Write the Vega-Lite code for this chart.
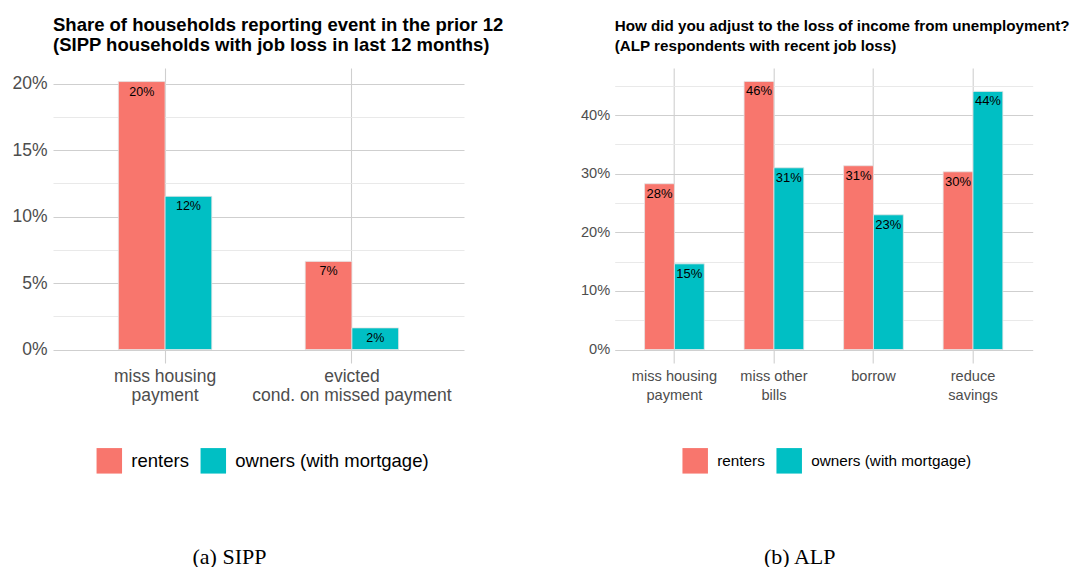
{
  "$schema": "https://vega.github.io/schema/vega-lite/v6.json",
  "padding": {"left": 11, "top": 15, "right": 5, "bottom": 0},
  "bounds": "flush",
  "spacing": 150.7,
  "background": "white",
  "config": {
    "view": {"stroke": null},
    "axis": {"domain": false, "ticks": false, "gridColor": "#cfcfcf", "gridWidth": 1.1, "labelColor": "#4d4d4d", "labelFont": "Liberation Sans", "labelFontSize": 17.5, "labelLimit": 300},
    "legend": {"orient": "none", "direction": "horizontal", "symbolType": "square", "symbolSize": 650, "symbolStrokeWidth": 0, "symbolOpacity": 1, "labelFontSize": 18.5, "labelColor": "#000", "labelOffset": 9, "columnPadding": 11, "padding": 0, "labelLimit": 400}
  },
  "resolve": {"scale": {"color": "independent", "y": "independent", "x": "independent", "xOffset": "independent"}, "legend": {"color": "independent"}},
  "hconcat": [
    {
      "width": 411,
      "height": 295,
      "title": {"text": ["Share of households reporting event in the prior 12", "(SIPP households with job loss in last 12 months)"], "anchor": "start", "frame": "group", "font": "Liberation Sans", "fontSize": 18.5, "fontWeight": "bold", "color": "#000", "lineHeight": 20, "offset": 14},
      "data": {"values": [
        {"category": "miss housing\npayment", "group": "renters", "value": 0.2015},
        {"category": "miss housing\npayment", "group": "owners (with mortgage)", "value": 0.1152},
        {"category": "evicted\ncond. on missed payment", "group": "renters", "value": 0.0663},
        {"category": "evicted\ncond. on missed payment", "group": "owners (with mortgage)", "value": 0.0163}
      ]},
      "encoding": {
        "x": {"field": "category", "type": "nominal", "sort": null, "scale": {"paddingInner": 0.5, "paddingOuter": 0.35},
          "axis": {"grid": true, "bandPosition": 0.5, "labelAngle": 0, "labelExpr": "split(datum.label, '\\n')", "labelLineHeight": 19.5, "labelPadding": 4, "labelBaseline": "top",
            "title": "(a) SIPP", "titleFont": "Liberation Serif", "titleFontWeight": "normal", "titleFontSize": 22, "titleColor": "#000", "titleX": 176, "titleY": 200, "titleBaseline": "alphabetic", "titleAlign": "center"}},
        "xOffset": {"field": "group", "type": "nominal", "sort": ["renters", "owners (with mortgage)"], "scale": {"paddingInner": 0, "paddingOuter": 0}}
      },
      "layer": [
        {
          "mark": {"type": "bar", "stroke": "#e4e4e4", "strokeWidth": 0.8},
          "encoding": {
            "y": {"field": "value", "type": "quantitative", "scale": {"domain": [-0.0101, 0.2117], "nice": false, "zero": false},
              "axis": {"values": [0, 0.05, 0.1, 0.15, 0.2], "format": ".0%", "labelPadding": 6, "title": null, "grid": true}},
            "y2": {"datum": 0},
            "color": {"field": "group", "type": "nominal", "sort": ["renters", "owners (with mortgage)"],
              "scale": {"domain": ["renters", "owners (with mortgage)"], "range": ["#F8766D", "#00BFC4"]},
              "legend": {"title": null, "legendX": 43.3, "legendY": 379.7, "labelFont": "Liberation Sans"}}
          }
        },
        {
          "mark": {"type": "text", "dy": 10, "baseline": "middle", "font": "Liberation Sans", "fontSize": 12.5, "color": "#000"},
          "encoding": {
            "y": {"field": "value", "type": "quantitative", "scale": {"domain": [-0.0101, 0.2117], "nice": false, "zero": false},
              "axis": {"values": [0.025, 0.075, 0.125, 0.175], "labels": false, "title": null, "grid": true, "gridColor": "#e6e6e6", "gridWidth": 0.9, "orient": "left"}},
            "text": {"field": "value", "type": "quantitative", "format": ".0%"}
          }
        }
      ],
      "resolve": {"axis": {"y": "independent"}}
    },
    {
      "width": 418,
      "height": 295,
      "title": {"text": ["How did you adjust to the loss of income from unemployment?", "(ALP respondents with recent job loss)"], "anchor": "start", "frame": "group", "font": "Liberation Sans", "fontSize": 15.2, "fontWeight": "bold", "color": "#000", "lineHeight": 20, "offset": 14},
      "data": {"values": [
        {"category": "miss housing\npayment", "group": "renters", "value": 0.2828},
        {"category": "miss housing\npayment", "group": "owners (with mortgage)", "value": 0.1462},
        {"category": "miss other\nbills", "group": "renters", "value": 0.4573},
        {"category": "miss other\nbills", "group": "owners (with mortgage)", "value": 0.3100},
        {"category": "borrow", "group": "renters", "value": 0.3135},
        {"category": "borrow", "group": "owners (with mortgage)", "value": 0.2298},
        {"category": "reduce\nsavings", "group": "renters", "value": 0.3032},
        {"category": "reduce\nsavings", "group": "owners (with mortgage)", "value": 0.4403}
      ]},
      "encoding": {
        "x": {"field": "category", "type": "nominal", "sort": null, "scale": {"paddingInner": 0.4, "paddingOuter": 0.3},
          "axis": {"grid": true, "bandPosition": 0.5, "labelAngle": 0, "labelExpr": "split(datum.label, '\\n')", "labelLineHeight": 19.5, "labelPadding": 5, "labelBaseline": "top", "labelFontSize": 14.6,
            "title": "(b) ALP", "titleFont": "Liberation Serif", "titleFontWeight": "normal", "titleFontSize": 22, "titleColor": "#000", "titleX": 184.5, "titleY": 200, "titleBaseline": "alphabetic", "titleAlign": "center"}},
        "xOffset": {"field": "group", "type": "nominal", "sort": ["renters", "owners (with mortgage)"], "scale": {"paddingInner": 0, "paddingOuter": 0}}
      },
      "layer": [
        {
          "mark": {"type": "bar", "stroke": "#e4e4e4", "strokeWidth": 0.8},
          "encoding": {
            "y": {"field": "value", "type": "quantitative", "scale": {"domain": [-0.0229, 0.4802], "nice": false, "zero": false},
              "axis": {"values": [0, 0.1, 0.2, 0.3, 0.4], "format": ".0%", "labelPadding": 5, "title": null, "grid": true, "labelFontSize": 14.6}},
            "y2": {"datum": 0},
            "color": {"field": "group", "type": "nominal", "sort": ["renters", "owners (with mortgage)"],
              "scale": {"domain": ["renters", "owners (with mortgage)"], "range": ["#F8766D", "#00BFC4"]},
              "legend": {"title": null, "legendX": 67.5, "legendY": 379.7, "labelFont": "Liberation Sans", "labelFontSize": 15.3}}
          }
        },
        {
          "mark": {"type": "text", "dy": 10, "baseline": "middle", "font": "Liberation Sans", "fontSize": 13, "color": "#000"},
          "encoding": {
            "y": {"field": "value", "type": "quantitative", "scale": {"domain": [-0.0229, 0.4802], "nice": false, "zero": false},
              "axis": {"values": [0.05, 0.15, 0.25, 0.35, 0.45], "labels": false, "title": null, "grid": true, "gridColor": "#e6e6e6", "gridWidth": 0.9, "orient": "left"}},
            "text": {"field": "value", "type": "quantitative", "format": ".0%"}
          }
        }
      ],
      "resolve": {"axis": {"y": "independent"}}
    }
  ]
}
